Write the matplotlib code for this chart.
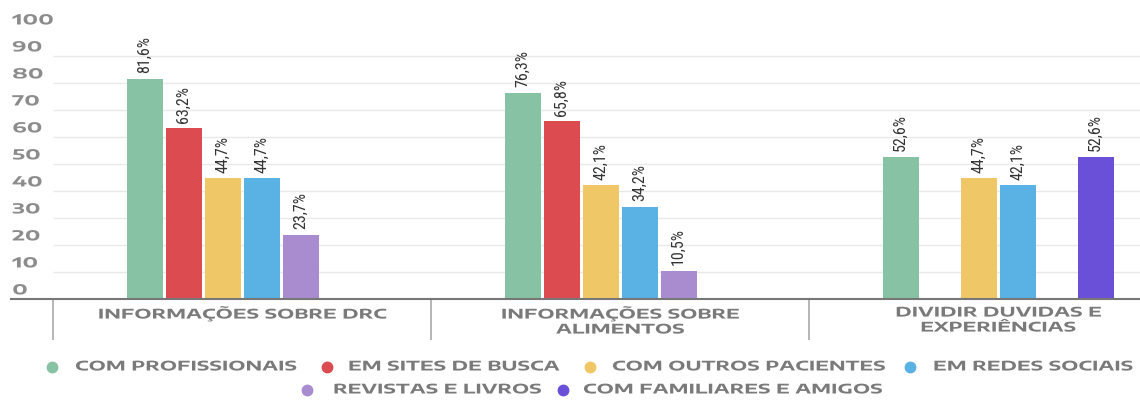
import numpy as np
import matplotlib
matplotlib.use("Agg")
import matplotlib.pyplot as plt
from matplotlib.lines import Line2D
from matplotlib import transforms
from matplotlib.patheffects import AbstractPathEffect

# data
categories = ["INFORMAÇÕES SOBRE DRC", "INFORMAÇÕES SOBRE\nALIMENTOS", "DIVIDIR DUVIDAS E\nEXPERIÊNCIAS"]
series_names = ["COM PROFISSIONAIS", "EM SITES DE BUSCA", "COM OUTROS PACIENTES",
                "EM REDES SOCIAIS", "REVISTAS E LIVROS", "COM FAMILIARES E AMIGOS"]
profissionais = [81.6, 76.3, 52.6]
sites_busca = [63.2, 65.8, np.nan]
outros_pacientes = [44.7, 42.1, 44.7]
redes_sociais = [44.7, 34.2, 42.1]
revistas_livros = [23.7, 10.5, np.nan]
familiares_amigos = [np.nan, np.nan, 52.6]
yticks = [0, 10, 20, 30, 40, 50, 60, 70, 80, 90, 100]

series = [profissionais, sites_busca, outros_pacientes, redes_sociais, revistas_livros, familiares_amigos]
colors = ["#88c2a4", "#db4b4f", "#f0c766", "#5ab1e3", "#a98bd0", "#6a4fd8"]


class HStretch(AbstractPathEffect):
    """widen text horizontally (the reference uses heavy letter spacing)"""
    def __init__(self, sx, anchor="left"):
        super().__init__()
        self.sx = sx
        self.anchor = anchor

    def draw_path(self, renderer, gc, tpath, affine, rgbFace=None):
        cx = 0
        if self.anchor == "center":
            ext = tpath.get_extents()
            cx = (ext.x0 + ext.x1) / 2
        t = transforms.Affine2D().translate(-cx, 0).scale(self.sx, 1).translate(cx, 0) + affine
        renderer.draw_path(gc, tpath, t, rgbFace)


grey = "#7a7a7a"
label_font = dict(family=["Encode Sans Expanded", "DejaVu Sans"], fontweight=700, fontstretch="expanded")
value_font = ["Roboto Condensed", "DejaVu Sans"]
sx = 1.45

W, H = 1140, 403
fig = plt.figure(figsize=(W / 100, H / 100), dpi=100)

# axes: left edge at px 11, x=-0.5 at px 53, 378 px per category
px_per_unit = 378.0
x_left = -0.5 - (53 - 11) / px_per_unit
x_right = -0.5 + (W - 53) / px_per_unit
ax_bottom_px = 299
ax_top_px = 299 - 270
ax = fig.add_axes([11 / W, (H - ax_bottom_px) / H, (W - 11) / W, (ax_bottom_px - ax_top_px) / H])
ax.set_xlim(x_left, x_right)
ax.set_ylim(0, 100)
for s in ["top", "right", "left"]:
    ax.spines[s].set_visible(False)
ax.spines["bottom"].set_color("#777777")
ax.spines["bottom"].set_linewidth(1.5)
ax.set_xticks([])
ax.set_yticks([])

# gridlines
ax.hlines(yticks[1:-1], -0.5, x_right, colors="#e9e9e9", linewidth=1, zorder=0)

# y tick labels, sitting above their gridline
off = transforms.offset_copy(ax.transData, fig=fig, x=0, y=6.5, units="points")
tl = transforms.blended_transform_factory(ax.transAxes, off)
for t in yticks:
    ax.text(0.001, t, str(t), transform=tl, ha="left", va="center",
            fontsize=10, color="#8c8c8c", path_effects=[HStretch(1.5)], **label_font)

# bars
slot = 39 / px_per_unit
bar_w = 36 / px_per_unit
x = np.arange(len(categories))
vt = transforms.offset_copy(ax.transData, fig=fig, x=0, y=4, units="points")
for i, (vals, c) in enumerate(zip(series, colors)):
    pos = x + (i - 2.5) * slot
    ax.bar(pos, vals, width=bar_w, color=c, zorder=2)
    for p, v in zip(pos, vals):
        if np.isnan(v):
            continue
        ax.text(p, v, f"{v:.1f}%".replace(".", ","), transform=vt, rotation=90,
                ha="center", va="bottom", fontsize=11.5, color="#333333", family=value_font)

# category separators and labels
ax.vlines([-0.5, 0.5, 1.5], -15.2, 0, colors="#aaaaaa", linewidth=1.2, clip_on=False)
for xi, cat in zip(x, categories):
    ax.text(xi, -2.8, cat, ha="center", va="top", fontsize=9.5,
            color=grey, linespacing=1.2, clip_on=False,
            path_effects=[HStretch(sx, "center")], **label_font)

# legend drawn by hand to keep the two centred rows
rows = [
    (367, [(52, 75), (327, 348), (590, 612), (910, 933)]),
    (390, [(307, 333), (563, 583)]),
]
k = 0
for y_px, items in rows:
    yf = (H - y_px) / H
    for cx, tx in items:
        fig.add_artist(Line2D([cx / W], [yf], marker="o", markersize=7.5, color=colors[k],
                              linestyle="none", transform=fig.transFigure))
        fig.text(tx / W, yf, series_names[k], ha="left", va="center", fontsize=9.5,
                 color=grey, path_effects=[HStretch(sx)], **label_font)
        k += 1

fig.savefig("out.png", dpi=100)
